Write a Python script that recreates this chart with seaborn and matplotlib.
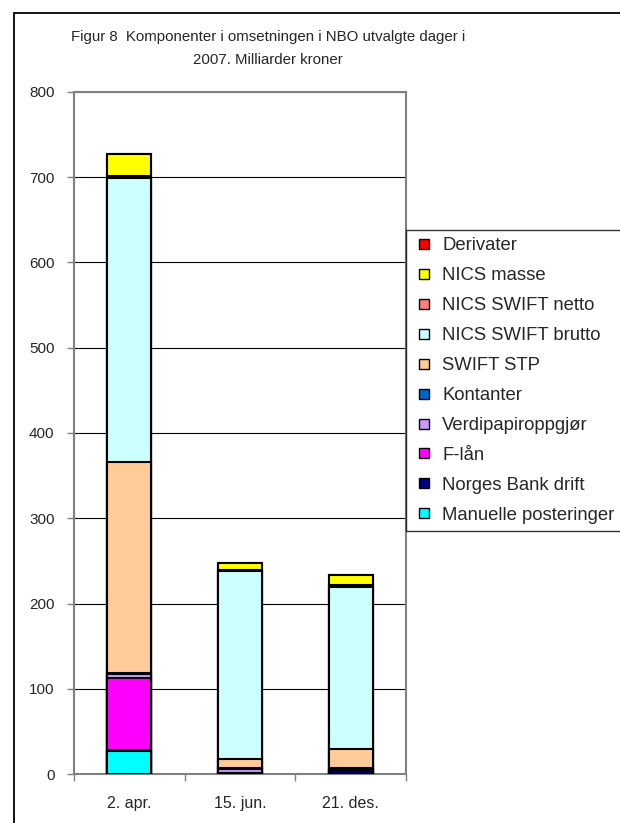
import matplotlib
matplotlib.use("Agg")
import matplotlib.pyplot as plt
import seaborn as sns
import numpy as np
from matplotlib.lines import Line2D
from matplotlib.patches import Rectangle

categories = ["2. apr.", "15. jun.", "21. des."]

# series listed bottom -> top of the stack
series_names = [
    "Manuelle posteringer",
    "Norges Bank drift",
    "F-lån",
    "Verdipapiroppgjør",
    "Kontanter",
    "SWIFT STP",
    "NICS SWIFT brutto",
    "NICS SWIFT netto",
    "NICS masse",
    "Derivater",
]
manuelle = [27, 0, 0]
nb_drift = [1, 1, 3]
f_laan = [85, 0, 0]
verdipapir = [4, 5, 3]
kontanter = [1, 0.5, 1]
swift_stp = [248, 11, 22]
nics_brutto = [333, 221, 190]
nics_netto = [2, 1, 3]
nics_masse = [26, 8, 11]
derivater = [0.5, 0, 0.5]

series_values = [manuelle, nb_drift, f_laan, verdipapir, kontanter,
                 swift_stp, nics_brutto, nics_netto, nics_masse, derivater]
series_colors = ["#00FFFF", "#000080", "#FF00FF", "#CC99FF", "#0066CC",
                 "#FFCC99", "#CCFFFF", "#FF8080", "#FFFF00", "#FF0000"]

yticks = [0, 100, 200, 300, 400, 500, 600, 700, 800]

sns.set_style("white")
plt.rcParams["font.family"] = ["Liberation Sans", "DejaVu Sans"]

W, H = 620, 823
fig = plt.figure(figsize=(W / 100, H / 100), dpi=100)
ax = fig.add_axes([74 / W, 1 - 774 / H, 332 / W, 682 / H])

cum = np.cumsum(np.array(series_values, dtype=float), axis=0)
# draw tallest cumulative first, shorter ones on top
for i in range(len(series_names) - 1, -1, -1):
    sns.barplot(x=categories, y=cum[i], order=categories, color=series_colors[i],
                saturation=1, width=0.4, edgecolor="black", linewidth=1.5,
                ax=ax, zorder=3)

ax.set_ylim(0, 800)
ax.set_xlim(-0.5, 2.5)
ax.set_yticks(yticks)
ax.set_yticklabels([str(v) for v in yticks])
ax.set_xticks(range(len(categories)))
ax.set_xticklabels(categories)
ax.set_xticks([-0.5, 0.5, 1.5, 2.5], minor=True)
ax.set_xlabel("")
ax.set_ylabel("")
ax.set_axisbelow(True)
ax.yaxis.grid(True, color="black", linewidth=0.8)
ax.xaxis.grid(False)
for sp in ax.spines.values():
    sp.set_visible(True)
    sp.set_color("#808080")
    sp.set_linewidth(1.5)
ax.tick_params(axis="x", which="major", length=0, pad=16, labelsize=11.5)
ax.tick_params(axis="x", which="minor", length=5, width=1, color="#808080", direction="out", bottom=True)
ax.tick_params(axis="y", length=5, width=1, color="#808080", direction="out", left=True, pad=9, labelsize=11)

fig.text(268 / W, 1 - 48.5 / H, "Figur 8  Komponenter i omsetningen i NBO utvalgte dager i\n2007. Milliarder kroner",
         ha="center", va="center", fontsize=10.8, linespacing=1.75)

handles = [Line2D([], [], linestyle="none", marker="s", markersize=6.5,
                  markerfacecolor=series_colors[i], markeredgecolor="black", markeredgewidth=1)
           for i in range(len(series_names) - 1, -1, -1)]
labels = [series_names[i] for i in range(len(series_names) - 1, -1, -1)]
leg = fig.legend(handles, labels, loc="upper left", bbox_to_anchor=(406 / W, 1 - 230 / H),
                 borderaxespad=0, frameon=True, fancybox=False, edgecolor="black",
                 fontsize=13.3, handlelength=1.2, handletextpad=0.35, labelspacing=0.70,
                 borderpad=0.4)
leg.get_frame().set_linewidth(1.0)

fig.patches.append(Rectangle((13.5 / W, -0.1), 1.2, 1.1 - 13 / H, transform=fig.transFigure,
                             fill=False, edgecolor="black", linewidth=1.3))

fig.savefig("out.png", dpi=100, facecolor="white")
